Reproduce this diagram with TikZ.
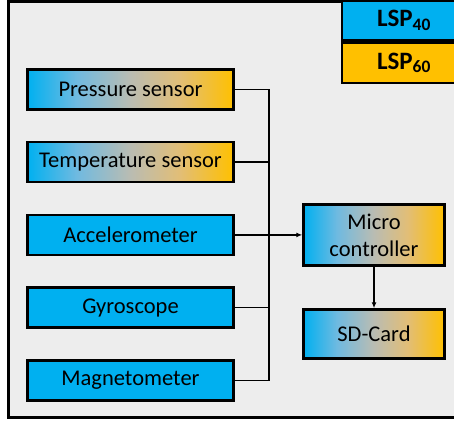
\documentclass[tikz,border=0pt]{standalone}
\usepackage{fontspec}
\setmainfont{Carlito}
\usetikzlibrary{arrows.meta}
\definecolor{lspblue}{RGB}{0,176,240}
\definecolor{lspsky}{RGB}{112,186,224}
\definecolor{lspmid}{RGB}{186,188,178}
\definecolor{lspsand}{RGB}{226,190,118}
\definecolor{lsporange}{RGB}{255,192,0}
\definecolor{panelgray}{RGB}{237,237,237}
\pgfdeclarehorizontalshading{sensorfade}{100bp}{color(0bp)=(lspblue); color(25bp)=(lspblue);
  color(37bp)=(lspsky); color(50bp)=(lspmid); color(62bp)=(lspsand); color(75bp)=(lsporange); color(100bp)=(lsporange)}
\begin{document}
\begin{tikzpicture}[x=1bp,y=-1bp,
    unit/.style={draw=black,line width=2.5bp,inner sep=0pt,align=center,font=\fontsize{22.5bp}{27bp}\selectfont},
    sensor/.style={unit,minimum width=206bp,minimum height=40bp},
    legend/.style={unit,minimum width=124bp,minimum height=40bp,font=\fontsize{25bp}{30bp}\selectfont\bfseries},
    bluebox/.style={fill=lspblue},
    mixbox/.style={shading=sensorfade},
    wire/.style={line width=1.5bp},
    tip/.style={-{Latex[length=6bp,width=5bp]}}]
  \useasboundingbox (0,0) rectangle (454,421);
  \clip (0,0) rectangle (454,421);
  \filldraw[fill=panelgray,draw=black,line width=3bp] (8.5,1) rectangle (480,417.5);
  \node[legend,fill=lspblue] (lsp40) at (404,20.5) {LSP\textsubscript{40}};
  \node[legend,fill=lsporange,anchor=north] (lsp60) at (lsp40.south) {LSP\textsubscript{60}};
  \node[sensor,mixbox] (pres) at (130.5,89.5) {Pressure sensor};
  \node[sensor,mixbox] (temp) at (130.5,162.2) {Temperature sensor};
  \node[sensor,bluebox] (acc) at (130.5,234.9) {Accelerometer};
  \node[sensor,bluebox] (gyro) at (130.5,307.6) {Gyroscope};
  \node[sensor,bluebox] (mag) at (130.5,380.3) {Magnetometer};
  \node[unit,mixbox,minimum width=141bp,minimum height=61bp] (mcu) at (374,234.9) {Micro\\controller};
  \node[unit,mixbox,minimum width=141bp,minimum height=49bp] (sd) at (374,334) {SD-Card};
  \coordinate (busend) at (269,380.3);
  \draw[wire] (pres.east) -| (busend) -- (mag.east);
  \draw[wire] (temp.east) -- (temp.east -| busend);
  \draw[wire] (gyro.east) -- (gyro.east -| busend);
  \draw[wire,tip] (acc.east) -- (mcu.west);
  \draw[wire,tip] (mcu.south) -- (sd.north);
\end{tikzpicture}
\end{document}
